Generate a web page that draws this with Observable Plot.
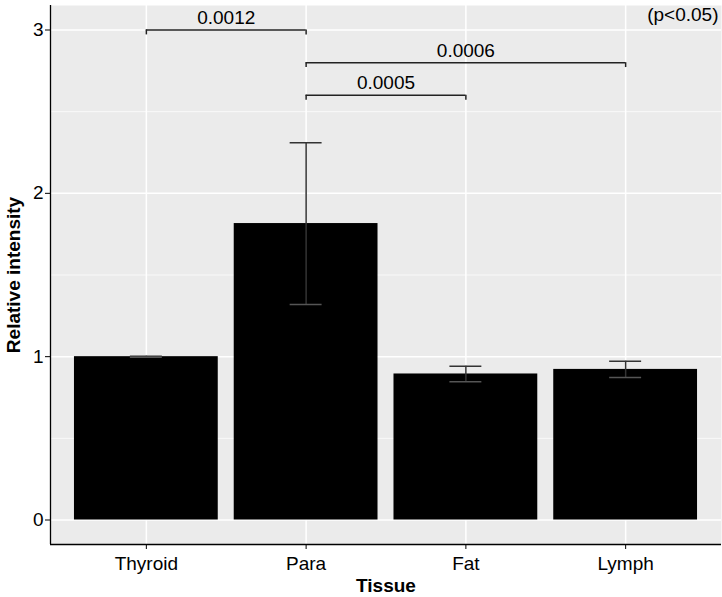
<!DOCTYPE html>
<html>
<head>
<meta charset="utf-8">
<script src="https://cdn.jsdelivr.net/npm/d3@7"></script>
<script src="https://cdn.jsdelivr.net/npm/@observablehq/plot@0.6"></script>
<style>
  html, body { margin: 0; padding: 0; background: white; }
  #chart svg { display: block; }
</style>
</head>
<body>
<div id="chart"></div>
<script>
// ---- data ----
const categories = ["Thyroid", "Para", "Fat", "Lymph"];
const means = [1.0, 1.815, 0.894, 0.922];
const errors = [0.003, 0.495, 0.047, 0.05];

const compFrom = ["Thyroid", "Para", "Para"];
const compTo = ["Para", "Lymph", "Fat"];
const compLevel = [3.0, 2.8, 2.6];
const compLabel = ["0.0012", "0.0006", "0.0005"];

const yTicks = [0, 1, 2, 3];
const yMinor = [0.5, 1.5, 2.5];
const noteText = "(p<0.05)";
const xTitle = "Tissue";
const yTitle = "Relative intensity";

// ---- derived tables ----
const bars = categories.map((c, i) => ({i, c, mean: means[i], lo: means[i] - errors[i], hi: means[i] + errors[i]}));
const idx = c => categories.indexOf(c);
const comps = compFrom.map((f, k) => ({a: idx(f), b: idx(compTo[k]), level: compLevel[k], label: compLabel[k]}));
const compEnds = comps.flatMap(d => [{x: d.a, level: d.level}, {x: d.b, level: d.level}]);

const xDomain = [-0.6, categories.length - 1 + 0.6];
const yDomain = [-0.15, 3.15];
const halfBar = 0.45, halfCap = 0.1, bracketTick = 0.03;

const font = "'Liberation Sans', Arial, Helvetica, sans-serif";
const fs = 19;

const chart = Plot.plot({
  width: 722,
  height: 597,
  marginLeft: 50,
  marginRight: 1,
  marginTop: 5,
  marginBottom: 53,
  style: {fontFamily: font, fontSize: fs + "px", color: "black", background: "white"},
  x: {domain: xDomain},
  y: {domain: yDomain},
  marks: [
    Plot.frame({fill: "#EBEBEB", stroke: null}),
    Plot.ruleY(yMinor, {stroke: "white", strokeWidth: 0.7}),
    Plot.ruleY(yTicks, {stroke: "white", strokeWidth: 1.5}),
    Plot.ruleX(bars, {x: "i", stroke: "white", strokeWidth: 1.5}),
    Plot.rectY(bars, {x1: d => d.i - halfBar, x2: d => d.i + halfBar, y1: 0, y2: "mean", fill: "black"}),
    Plot.ruleX(bars, {x: "i", y1: "lo", y2: "hi", stroke: "#333", strokeWidth: 1.5}),
    Plot.ruleY(bars, {x1: d => d.i - halfCap, x2: d => d.i + halfCap, y: "hi", stroke: "#333", strokeWidth: 1.5}),
    Plot.ruleY(bars, {x1: d => d.i - halfCap, x2: d => d.i + halfCap, y: "lo", stroke: "#555", strokeWidth: 1.5}),
    // significance brackets
    Plot.ruleY(comps, {x1: "a", x2: "b", y: "level", stroke: "#222", strokeWidth: 1.5}),
    Plot.ruleX(compEnds, {x: "x", y1: "level", y2: d => d.level - bracketTick, stroke: "#222", strokeWidth: 1.5}),
    Plot.text(comps, {x: d => (d.a + d.b) / 2, y: "level", text: "label", dy: -12, lineAnchor: "middle", fontSize: fs, fill: "black"}),
    Plot.text([noteText], {frameAnchor: "top-right", dx: -3, dy: 2, lineAnchor: "top", textAnchor: "end", fontSize: fs, fill: "black"}),
    // axes
    Plot.ruleX([xDomain[0]], {stroke: "black", strokeWidth: 1.3}),
    Plot.ruleY([yDomain[0]], {stroke: "black", strokeWidth: 1.3}),
    Plot.axisY({ticks: yTicks, tickSize: 5, tickPadding: 2, fontSize: fs, label: null, tickFormat: d => String(d)}),
    Plot.axisX({ticks: categories.map((c, i) => i), tickFormat: i => categories[i], tickSize: 5, tickPadding: 7, fontSize: fs, label: null}),
    Plot.text([yTitle], {frameAnchor: "left", dx: -37, rotate: -90, textAnchor: "middle", lineAnchor: "middle", fontWeight: "bold", fontSize: fs, fill: "black"}),
    Plot.text([xTitle], {frameAnchor: "bottom", dy: 41, textAnchor: "middle", lineAnchor: "middle", fontWeight: "bold", fontSize: fs, fill: "black"})
  ]
});
document.getElementById("chart").appendChild(chart);
</script>
</body>
</html>
